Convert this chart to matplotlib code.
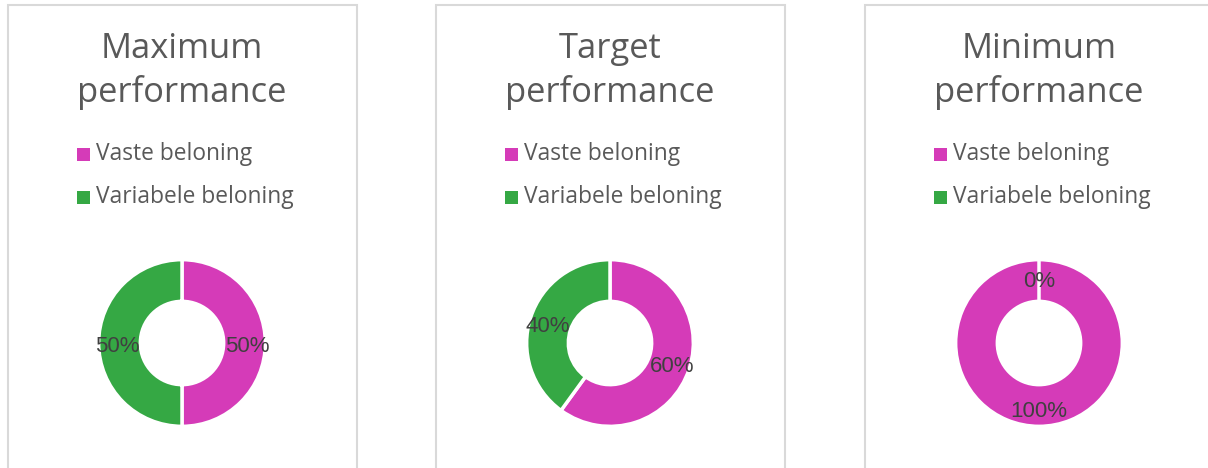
import matplotlib.pyplot as plt
from matplotlib.patches import Rectangle

# data
titles = ["Maximum\nperformance", "Target\nperformance", "Minimum\nperformance"]
categories = ["Vaste beloning", "Variabele beloning"]
vaste = [50, 60, 100]
variabele = [50, 40, 0]

colors = ["#D53BB8", "#35A844"]
W, H = 1208, 468

fig = plt.figure(figsize=(W / 100, H / 100), dpi=100)
fig.patch.set_facecolor("white")

title_font = ["Open Sans", "DejaVu Sans"]
label_font = ["Liberation Sans Narrow", "Liberation Sans", "DejaVu Sans"]

panel_left = [8, 436, 865]
panel_width = 349


def fx(px):
    return px / W


def fy(py):
    return 1 - py / H


for i in range(3):
    x0 = panel_left[i]
    cx = x0 + 174

    # panel frame
    fig.add_artist(Rectangle((fx(x0), fy(H + 10)), fx(panel_width), (H + 5) / H,
                             transform=fig.transFigure, fill=False,
                             edgecolor="#D9D9D9", linewidth=1.5))

    # title
    fig.text(fx(cx), fy(71), titles[i], ha="center", va="center",
             fontsize=24.8, color="#595959", family=title_font, linespacing=1.32)

    # legend
    for j, cat in enumerate(categories):
        ly = 154 + j * 43
        fig.add_artist(Rectangle((fx(x0 + 69), fy(ly + 6.5)), fx(13), 13 / H,
                                 transform=fig.transFigure, facecolor=colors[j],
                                 edgecolor="none"))
        fig.text(fx(x0 + 88), fy(ly), cat, ha="left", va="center",
                 fontsize=16.4, color="#595959", family=title_font)

    # donut
    size = 200
    ax = fig.add_axes([fx(cx - size / 2), fy(343 + size / 2), fx(size), size / H])
    vals = [vaste[i], variabele[i]]
    wedges, texts, autotexts = ax.pie(
        vals, colors=colors, startangle=90, counterclock=False,
        autopct="%d%%", pctdistance=0.78, radius=1,
        wedgeprops=dict(width=0.5, edgecolor="white", linewidth=2.5),
        textprops=dict(fontsize=16, color="#404040", family=label_font))
    for t in autotexts:
        x, y = t.get_position()
        t.set_position((x, y - 0.04))
    ax.set_xlim(-1.2, 1.2)
    ax.set_ylim(-1.2, 1.2)
    ax.set_aspect("equal")
    ax.axis("off")

fig.savefig("out.png", dpi=100)
